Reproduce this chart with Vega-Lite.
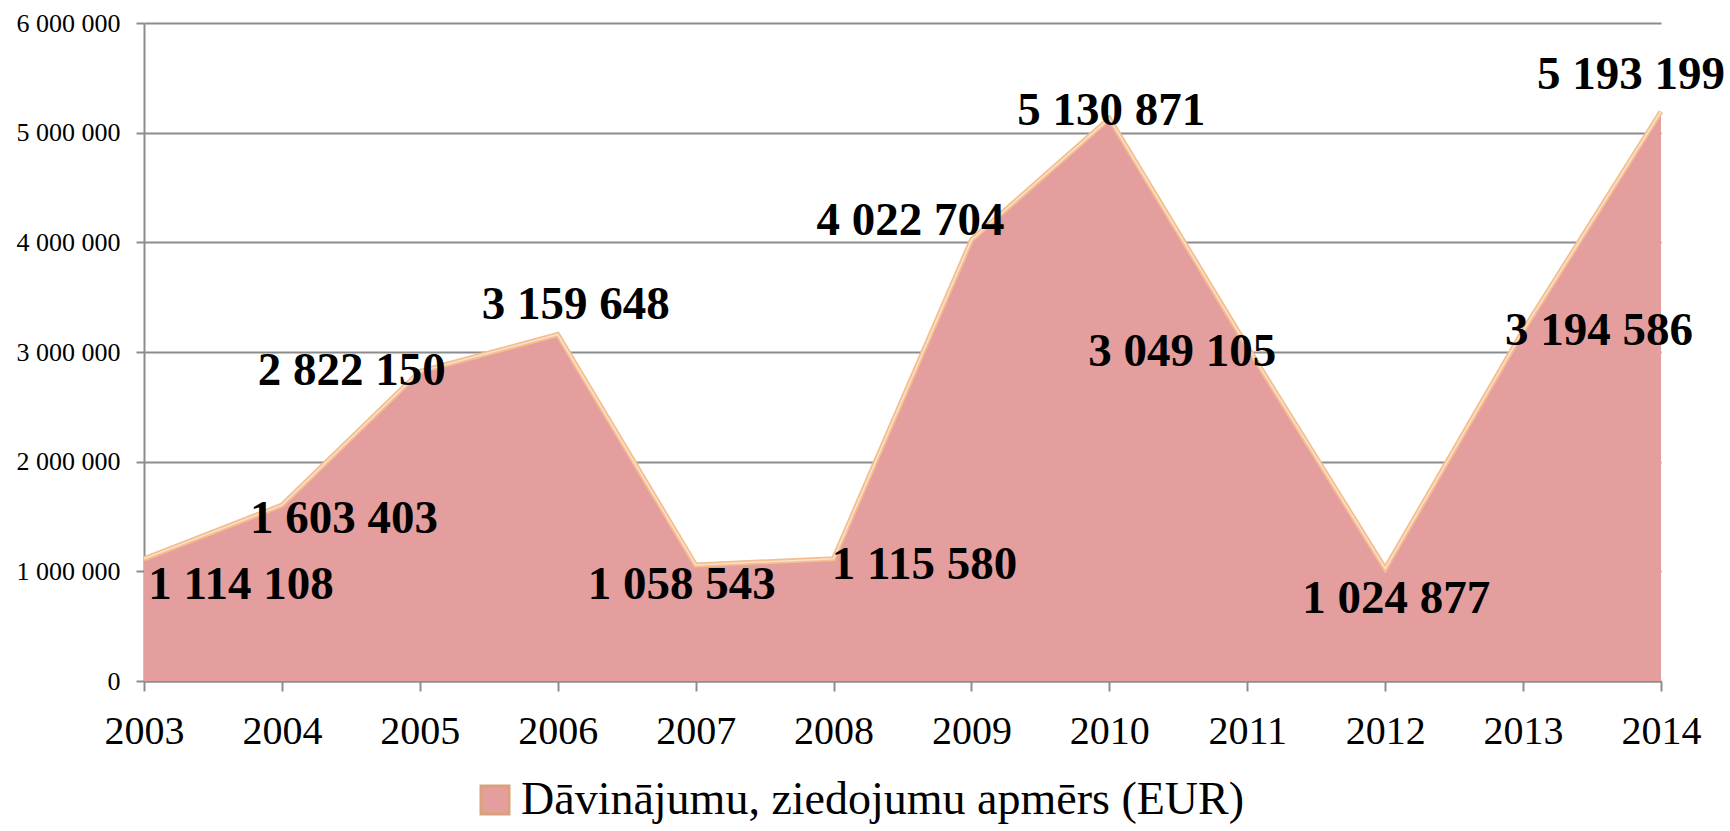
{
  "$schema": "https://vega.github.io/schema/vega-lite/v6.json",
  "width": 1517,
  "height": 658,
  "autosize": "none",
  "padding": {"left": 144, "top": 23, "right": 69, "bottom": 150},
  "background": "white",
  "data": {"values": [
    {"year": "2003", "value": 1114108},
    {"year": "2004", "value": 1603403},
    {"year": "2005", "value": 2822150},
    {"year": "2006", "value": 3159648},
    {"year": "2007", "value": 1058543},
    {"year": "2008", "value": 1115580},
    {"year": "2009", "value": 4022704},
    {"year": "2010", "value": 5130871},
    {"year": "2011", "value": 3049105},
    {"year": "2012", "value": 1024877},
    {"year": "2013", "value": 3194586},
    {"year": "2014", "value": 5193199}
  ]},
  "config": {
    "locale": {"number": {"decimal": ",", "thousands": " ", "grouping": [3], "currency": ["", " €"]}},
    "font": "Liberation Serif",
    "text": {"font": "Liberation Serif"},
    "view": {"stroke": null},
    "legend": {"labelFont": "Liberation Serif", "labelLimit": 0},
    "axis": {"labelFont": "Liberation Serif", "labelColor": "#000000", "domainColor": "#8c8c8c", "domainWidth": 2, "tickColor": "#8c8c8c", "tickWidth": 2, "gridColor": "#8c8c8c", "gridWidth": 2, "title": null}
  },
  "encoding": {
    "x": {"field": "year", "type": "ordinal", "scale": {"type": "point", "padding": 0},
      "axis": {"labelAngle": 0, "labelFontSize": 40, "tickSize": 10, "labelPadding": 20, "grid": false}},
    "y": {"field": "value", "type": "quantitative", "scale": {"domain": [0, 6000000], "nice": false},
      "axis": {"values": [0, 1000000, 2000000, 3000000, 4000000, 5000000, 6000000], "format": ",d", "labelFontSize": 26, "tickSize": 8, "labelPadding": 16, "grid": true}}
  },
  "layer": [
    {"mark": {"type": "area", "line": false},
     "encoding": {"color": {"datum": "Dāvinājumu, ziedojumu apmērs (EUR)", "scale": {"range": ["#E59E9E"]},
       "legend": {"title": null, "orient": "none", "legendX": 328, "legendY": 754, "labelFontSize": 46, "labelFont": "Liberation Serif", "labelLimit": 0, "labelColor": "#000000", "symbolType": "square", "symbolSize": 784, "symbolStrokeColor": "#D9A27A", "symbolStrokeWidth": 3, "symbolOpacity": 1, "labelOffset": 3}}}},
    {"mark": {"type": "line", "color": "#F4BE8E", "strokeWidth": 5}},
    {"mark": {"type": "line", "color": "#FBE0CC", "strokeWidth": 1.5}},
    {"transform": [{"filter": "datum.year == '2003'"}], "mark": {"type": "text", "fontSize": 47, "fontWeight": "bold", "align": "center", "baseline": "middle", "dx": 97, "dy": 26}, "encoding": {"text": {"field": "value", "format": ",d"}}},
    {"transform": [{"filter": "datum.year == '2004'"}], "mark": {"type": "text", "fontSize": 47, "fontWeight": "bold", "align": "center", "baseline": "middle", "dx": 62, "dy": 14}, "encoding": {"text": {"field": "value", "format": ",d"}}},
    {"transform": [{"filter": "datum.year == '2005'"}], "mark": {"type": "text", "fontSize": 47, "fontWeight": "bold", "align": "center", "baseline": "middle", "dx": -68, "dy": -1}, "encoding": {"text": {"field": "value", "format": ",d"}}},
    {"transform": [{"filter": "datum.year == '2006'"}], "mark": {"type": "text", "fontSize": 47, "fontWeight": "bold", "align": "center", "baseline": "middle", "dx": 18, "dy": -29}, "encoding": {"text": {"field": "value", "format": ",d"}}},
    {"transform": [{"filter": "datum.year == '2007'"}], "mark": {"type": "text", "fontSize": 47, "fontWeight": "bold", "align": "center", "baseline": "middle", "dx": -14, "dy": 20}, "encoding": {"text": {"field": "value", "format": ",d"}}},
    {"transform": [{"filter": "datum.year == '2008'"}], "mark": {"type": "text", "fontSize": 47, "fontWeight": "bold", "align": "center", "baseline": "middle", "dx": 91, "dy": 6}, "encoding": {"text": {"field": "value", "format": ",d"}}},
    {"transform": [{"filter": "datum.year == '2009'"}], "mark": {"type": "text", "fontSize": 47, "fontWeight": "bold", "align": "center", "baseline": "middle", "dx": -61, "dy": -19}, "encoding": {"text": {"field": "value", "format": ",d"}}},
    {"transform": [{"filter": "datum.year == '2010'"}], "mark": {"type": "text", "fontSize": 47, "fontWeight": "bold", "align": "center", "baseline": "middle", "dx": 2, "dy": -7}, "encoding": {"text": {"field": "value", "format": ",d"}}},
    {"transform": [{"filter": "datum.year == '2011'"}], "mark": {"type": "text", "fontSize": 47, "fontWeight": "bold", "align": "center", "baseline": "middle", "dx": -65, "dy": 5}, "encoding": {"text": {"field": "value", "format": ",d"}}},
    {"transform": [{"filter": "datum.year == '2012'"}], "mark": {"type": "text", "fontSize": 47, "fontWeight": "bold", "align": "center", "baseline": "middle", "dx": 11, "dy": 30}, "encoding": {"text": {"field": "value", "format": ",d"}}},
    {"transform": [{"filter": "datum.year == '2013'"}], "mark": {"type": "text", "fontSize": 47, "fontWeight": "bold", "align": "center", "baseline": "middle", "dx": 76, "dy": 0}, "encoding": {"text": {"field": "value", "format": ",d"}}},
    {"transform": [{"filter": "datum.year == '2014'"}], "mark": {"type": "text", "fontSize": 47, "fontWeight": "bold", "align": "center", "baseline": "middle", "dx": -30, "dy": -36}, "encoding": {"text": {"field": "value", "format": ",d"}}}
  ]
}
